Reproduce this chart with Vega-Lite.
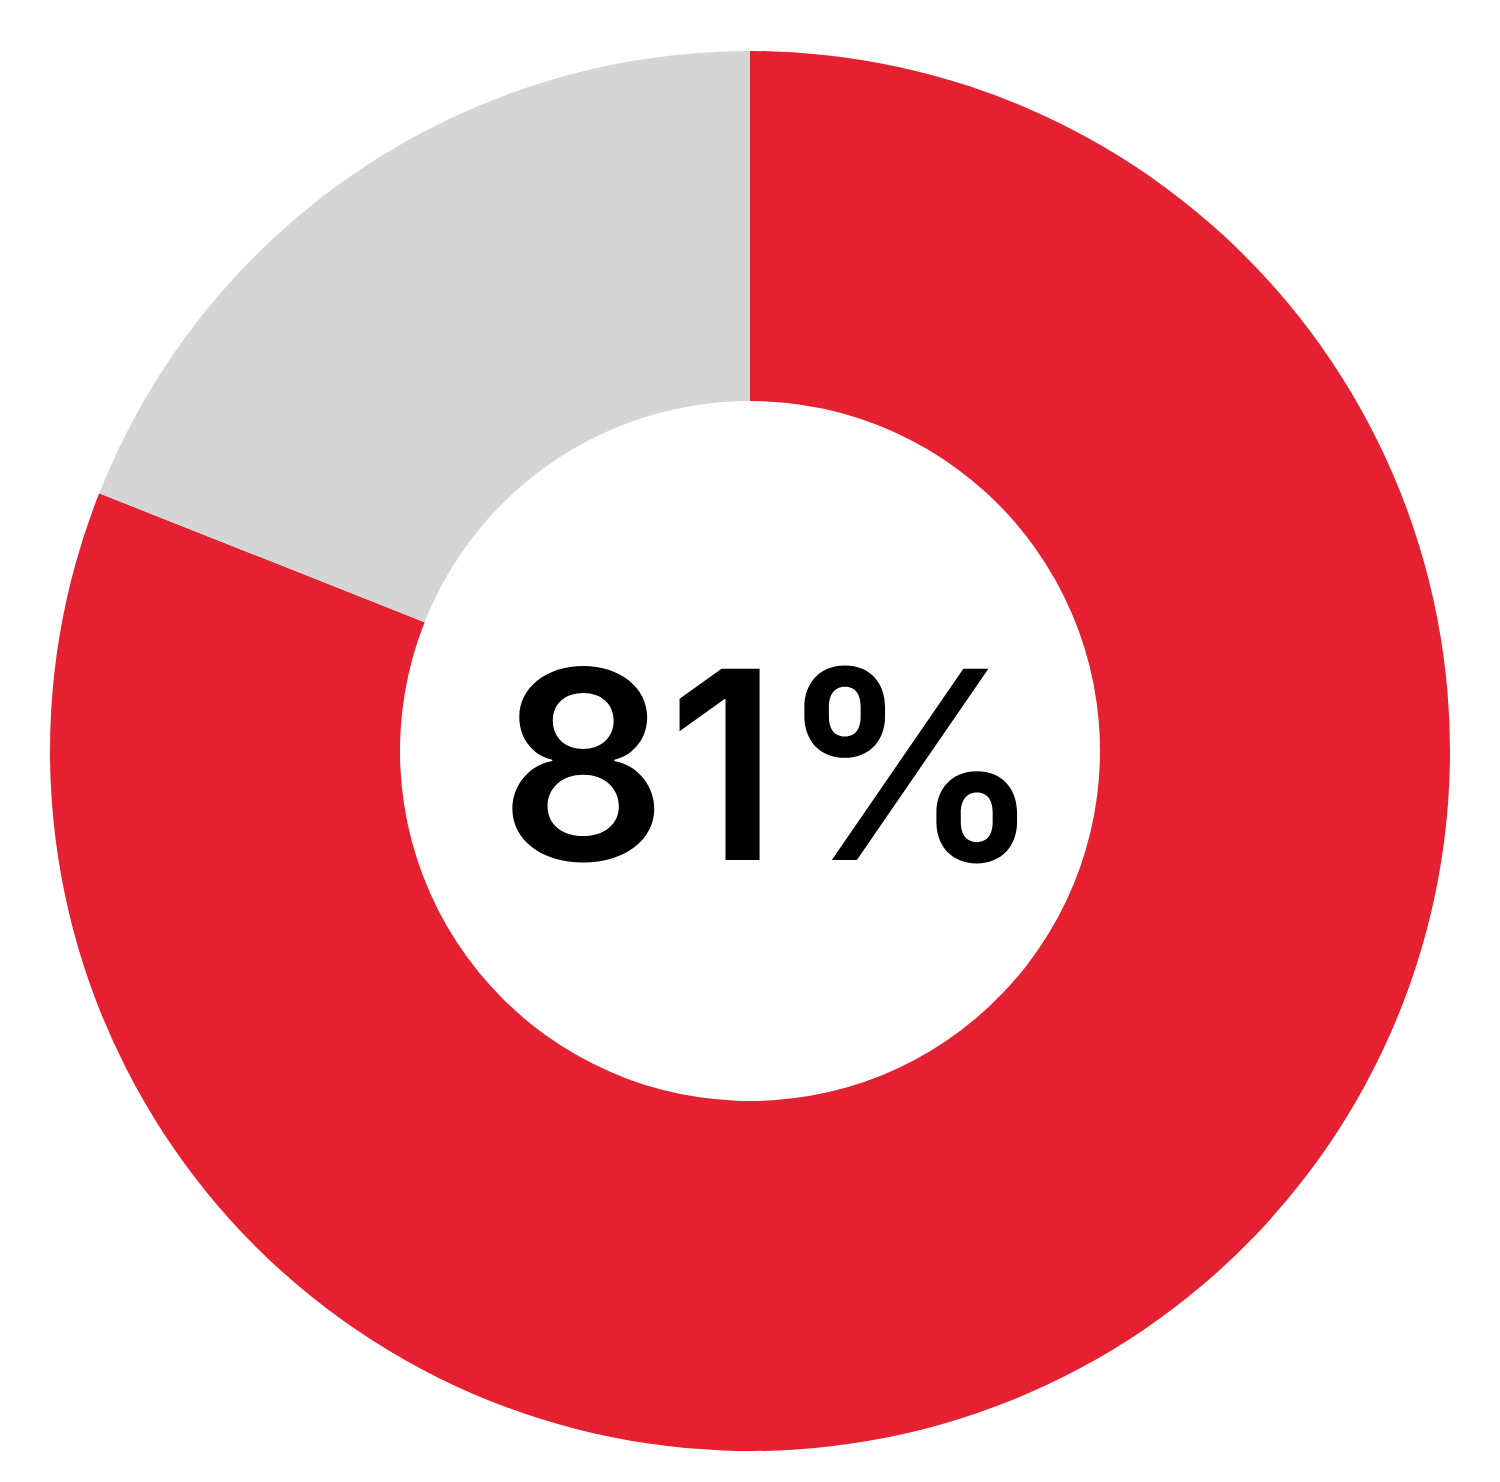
{
  "$schema": "https://vega.github.io/schema/vega-lite/v6.json",
  "width": 1500,
  "height": 1482,
  "autosize": {"type": "fit", "contains": "padding"},
  "padding": {"top": 20, "bottom": 0, "left": 0, "right": 0},
  "background": "white",
  "view": {"stroke": null},
  "layer": [
    {
      "data": {
        "values": [
          {"part": "yes", "value": 81, "rank": 1},
          {"part": "no", "value": 19, "rank": 2}
        ]
      },
      "mark": {"type": "arc", "outerRadius": 700, "innerRadius": 350},
      "encoding": {
        "theta": {"field": "value", "type": "quantitative", "stack": true},
        "order": {"field": "rank", "type": "quantitative"},
        "color": {
          "field": "part",
          "type": "nominal",
          "scale": {"domain": ["yes", "no"], "range": ["#E52030", "#D5D5D5"]},
          "legend": null
        }
      }
    },
    {
      "data": {"values": [{"label": "81%"}]},
      "mark": {
        "type": "text",
        "font": "Inter",
        "fontWeight": 600,
        "fontSize": 263,
        "color": "black",
        "align": "center",
        "baseline": "middle",
        "dx": 21,
        "dy": 30
      },
      "encoding": {"text": {"field": "label", "type": "nominal"}}
    }
  ]
}
